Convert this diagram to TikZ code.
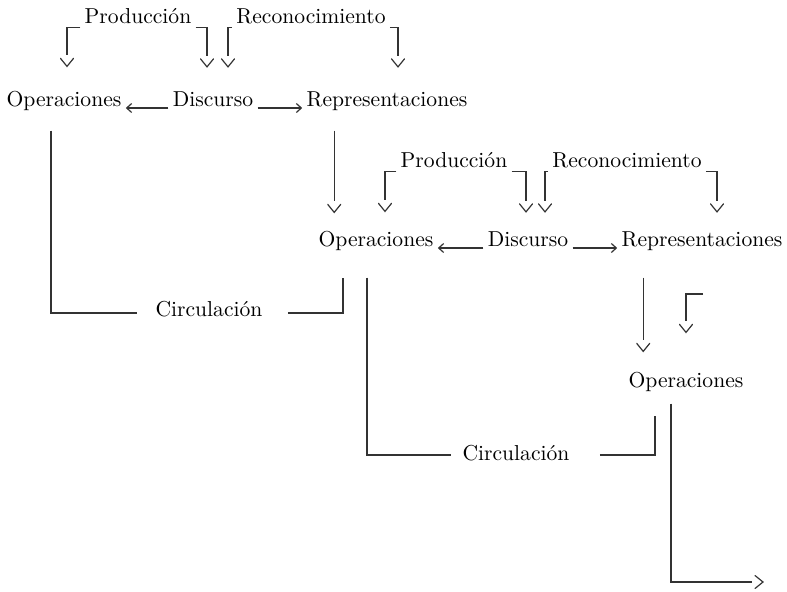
\documentclass[tikz,border=0pt]{standalone}
\usepackage{tikz}
\usetikzlibrary{arrows.meta, positioning}

% punta abierta separada de la linea
\pgfdeclarearrow{
  name = Gancho,
  setup code = {
    \pgfarrowssettipend{0pt}
    \pgfarrowssetbackend{-4pt}
    \pgfarrowssetvisualbackend{-4pt}
    \pgfarrowssetlineend{-5.5pt}
  },
  drawing code = {
    \pgfsetdash{}{0pt}
    \pgfsetroundcap
    \pgfsetmiterjoin
    \pgfpathmoveto{\pgfqpoint{-4pt}{3.25pt}}
    \pgfpathlineto{\pgfqpoint{0pt}{0pt}}
    \pgfpathlineto{\pgfqpoint{-4pt}{-3.25pt}}
    \pgfusepathqstroke
  }
}

\begin{document}
\begin{tikzpicture}[x=0.5pt, y=-0.5pt,
    every node/.style={inner sep=2pt, anchor=base, font=\fontsize{10.8}{13}\selectfont},
    linea/.style={line width=0.6pt, draw=black!80},
    flecha/.style={linea, -Gancho},
    flechita/.style={linea, -{Straight Barb[length=2.5pt, width=4.5pt]}}]
    \useasboundingbox (0,0) rectangle (787,591);

    % Primer nivel
    \node (pro1) at (138,23) {Producción};
    \node (rec1) at (311,23) {Reconocimiento};
    \node (ope1) at (64,106) {Operaciones};
    \node (dis1) at (213,106) {Discurso};
    \node (rep1) at (387,106) {Representaciones};

    \draw[flecha, shorten >=10pt] (pro1.south west) -| ([xshift=1.5pt]ope1.north);
    \draw[flecha, shorten >=10pt] (pro1.south east) -| ([xshift=-3pt]dis1.north);
    \draw[flecha, shorten >=10pt] (rec1.south west) -| ([xshift=7.5pt]dis1.north);
    \draw[flecha, shorten >=10pt] (rec1.south east) -| ([xshift=5.5pt]rep1.north);
    \draw[flechita] ([yshift=-1pt]dis1.base west) -- ([yshift=-1pt]ope1.base east);
    \draw[flechita] ([yshift=-1pt]dis1.base east) -- ([yshift=-1pt]rep1.base west);

    % Segundo nivel
    \node (pro2) at (454,167) {Producción};
    \node (rec2) at (627,167) {Reconocimiento};
    \node (ope2) at (376,246) {Operaciones};
    \node (dis2) at (528,246) {Discurso};
    \node (rep2) at (702,246) {Representaciones};

    \draw[flecha, shorten >=7.5pt] (pro2.south west) -| ([xshift=4.5pt]ope2.north);
    \draw[flecha, shorten >=7.5pt] (pro2.south east) -| ([xshift=-1pt]dis2.north);
    \draw[flecha, shorten >=7.5pt] (rec2.south west) -| ([xshift=8.5pt]dis2.north);
    \draw[flecha, shorten >=7.5pt] (rec2.south east) -| ([xshift=7.5pt]rep2.north);
    \draw[flechita] ([yshift=-1pt]dis2.base west) -- ([yshift=-1pt]ope2.base east);
    \draw[flechita] ([yshift=-1pt]dis2.base east) -- ([yshift=-1pt]rep2.base west);
    \draw[flecha, shorten <=8pt, shorten >=7pt] ([xshift=16pt]rep1.south west) -- ([xshift=16pt]rep1.south west |- ope2.north);

    % Circulacion
    \node (cir1) at (209,316) {Circulación};
    \draw[linea, shorten <=8pt, shorten >=7pt] ([xshift=-6.5pt]ope1.south) |- ([yshift=1.5pt]cir1.base west);
    \draw[linea, shorten <=10.5pt, shorten >=11.5pt] ([yshift=1.5pt]cir1.base east) -| ([xshift=-16.5pt]ope2.south);

    % Tercer nivel
    \node (ope3) at (686,387) {Operaciones};
    \node (cir2) at (516,460) {Circulación};
    \coordinate (suelta) at (703,294);
    \coordinate (salida) at (763,582);

    \draw[flecha, shorten <=11.5pt, shorten >=8pt] ([xshift=13pt]rep2.south west) -- ([xshift=13pt]rep2.south west |- ope3.north);
    \draw[flecha, shorten >=17.5pt] (suelta) -| (ope3.north);
    \draw[linea, shorten <=11.5pt, shorten >=3.5pt] ([xshift=-4.5pt]ope2.south) |- ([yshift=2.5pt]cir2.base west);
    \draw[linea, shorten <=13pt, shorten >=10pt] ([yshift=2.5pt]cir2.base east) -| ([xshift=-15.5pt]ope3.south);
    \draw[flecha, shorten <=4pt] ([xshift=-7.5pt]ope3.south) |- (salida);
\end{tikzpicture}
\end{document}
